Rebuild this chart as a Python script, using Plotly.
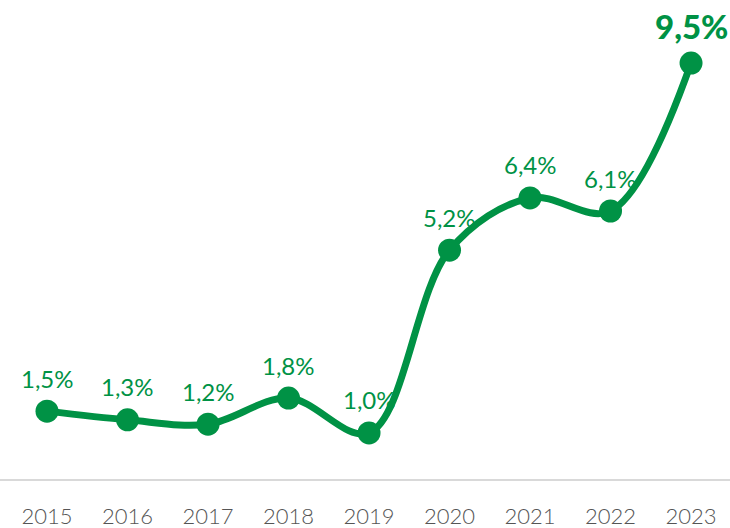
import plotly.graph_objects as go

# Data
years = [2015, 2016, 2017, 2018, 2019, 2020, 2021, 2022, 2023]
values = [1.5, 1.3, 1.2, 1.8, 1.0, 5.2, 6.4, 6.1, 9.5]
labels = [f"{v:.1f}%".replace(".", ",") for v in values]

green = "#009245"

fig = go.Figure()
fig.add_trace(go.Scatter(
    x=years, y=values,
    mode="lines+markers",
    line=dict(color=green, width=7, shape="spline", smoothing=1.0),
    marker=dict(color=green, size=23),
    hoverinfo="skip",
))

# value labels
for i, (x, v, t) in enumerate(zip(years, values, labels)):
    last = i == len(years) - 1
    fig.add_annotation(
        x=x, y=v, text=t,
        showarrow=False, yshift=37 if last else 33,
        font=dict(family="Lato", size=33 if last else 24, color=green,
                  weight=900 if last else 400),
    )

fig.update_layout(
    width=730, height=528,
    margin=dict(l=0, r=0, t=0, b=49, autoexpand=False),
    plot_bgcolor="white", paper_bgcolor="white",
    showlegend=False,
    font=dict(family="Lato"),
)
fig.update_xaxes(
    range=[2014.416, 2023.484], automargin=False,
    tickvals=years, ticktext=[str(y) for y in years],
    showgrid=False, zeroline=False,
    showline=True, linecolor="#d9d9d9", linewidth=2,
    ticks="", ticklabelstandoff=17,
    tickfont=dict(family="Lato", size=22, color="#555555", weight=300),
)
fig.update_yaxes(range=[-0.06, 10.95], visible=False, automargin=False)

fig.write_html("out.html", config={"displayModeBar": False},
               post_script="document.body.style.margin='0';")
